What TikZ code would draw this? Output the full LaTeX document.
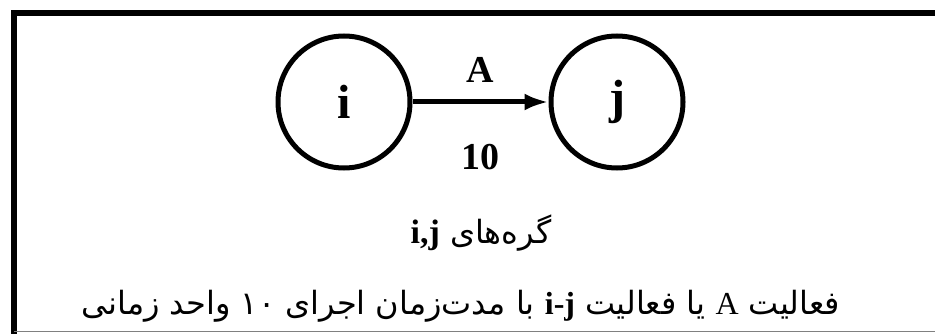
\documentclass[tikz,border=0pt]{standalone}
\usepackage{fontspec}
\setmainfont{Liberation Serif}
\newfontfamily\farsifont[Script=Arabic]{DejaVu Sans}
\TeXXeTstate=1
\usetikzlibrary{arrows.meta}

\begin{document}
\begin{tikzpicture}[x=1pt,y=-1pt,
 event/.style={draw,circle,line width=5pt,minimum size=132pt,inner sep=0pt,font=\fontsize{48}{48}\selectfont\bfseries},
 activity/.style={line width=5pt,-{Latex[length=24pt,width=17pt]}},
 lbl/.style={inner sep=0pt,font=\fontsize{38}{38}\selectfont\bfseries},
 caption/.style={anchor=base,inner sep=0pt,font=\farsifont\fontsize{32}{38}\selectfont}]
 \useasboundingbox (0,0) rectangle (935,334);
 % frame
 \draw[line width=6pt] (14,334) -- (14,13) -- (935,13);
 \draw[gray,line width=1pt] (14,331) -- (935,331);
 % network
 \node[event](i) at (344,102){i};
 \node[event](j) at (617,102){j};
 \draw[activity](i)--(j) node[midway,above=17pt,lbl]{A} node[midway,below=40pt,lbl]{10};
 % captions
 \node[caption](nodes) at (481,243){\beginR گره‌های \beginL{\rmfamily\bfseries\fontsize{34}{34}\selectfont i,j}\endL\endR};
 \node[caption](desc) at (461,314){\beginR فعالیت \beginL{\rmfamily\fontsize{32}{32}\selectfont A}\endL{} یا فعالیت \beginL{\rmfamily\bfseries\fontsize{32}{32}\selectfont i-j}\endL{} با مدت‌زمان اجرای \beginL ۱۰\endL{} واحد زمانی\endR};
\end{tikzpicture}
\end{document}
